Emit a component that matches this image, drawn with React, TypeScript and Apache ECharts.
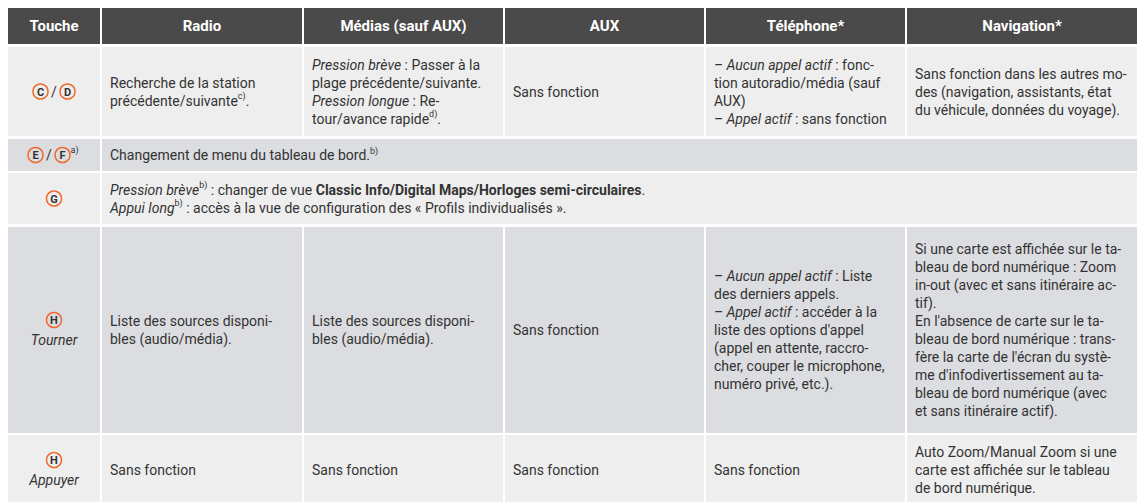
import React, { useEffect, useRef } from "react";
import * as echarts from "echarts";

// ---------- DATA ----------
const headers = ["Touche", "Radio", "Médias (sauf AUX)", "AUX", "Téléphone*", "Navigation*"];

const keyLetters = [["C", "D"], ["E", "F"], ["G"], ["H"], ["H"]];
const keyNotes = ["", "a)", "", "", ""];
const keyActions = ["", "", "", "Tourner", "Appuyer"];

const radioCD = ["Recherche de la station", "précédente/suivante{s|c)}."];
const mediasCD = [
  "{i|Pression brève} : Passer à la",
  "plage précédente/suivante.",
  "{i|Pression longue} : Re-",
  "tour/avance rapide{s|d)}.",
];
const auxCD = ["Sans fonction"];
const telCD = [
  "{i|– Aucun appel actif} : fonc-",
  "tion autoradio/média (sauf",
  "AUX)",
  "{i|– Appel actif} : sans fonction",
];
const navCD = [
  "Sans fonction dans les autres mo-",
  "des (navigation, assistants, état",
  "du véhicule, données du voyage).",
];

const rowEF = ["Changement de menu du tableau de bord.{s|b)}"];
const rowG = [
  "{i|Pression brève}{s|b)} : changer de vue {b|Classic Info/Digital Maps/Horloges semi-circulaires}.",
  "{i|Appui long}{s|b)} : accès à la vue de configuration des « Profils individualisés ».",
];

const radioTurn = ["Liste des sources disponi-", "bles (audio/média)."];
const mediasTurn = ["Liste des sources disponi-", "bles (audio/média)."];
const auxTurn = ["Sans fonction"];
const telTurn = [
  "{i|– Aucun appel actif} : Liste",
  "des derniers appels.",
  "{i|– Appel actif} : accéder à la",
  "liste des options d'appel",
  "(appel en attente, raccro-",
  "cher, couper le microphone,",
  "numéro privé, etc.).",
];
const navTurn = [
  "Si une carte est affichée sur le ta-",
  "bleau de bord numérique : Zoom",
  "in-out (avec et sans itinéraire ac-",
  "tif).",
  "En l'absence de carte sur le ta-",
  "bleau de bord numérique : trans-",
  "fère la carte de l'écran du systè-",
  "me d'infodivertissement au ta-",
  "bleau de bord numérique (avec",
  "et sans itinéraire actif).",
];

const radioPush = ["Sans fonction"];
const mediasPush = ["Sans fonction"];
const auxPush = ["Sans fonction"];
const telPush = ["Sans fonction"];
const navPush = [
  "Auto Zoom/Manual Zoom si une",
  "carte est affichée sur le tableau",
  "de bord numérique.",
];

const bodyRows = [
  [radioCD, mediasCD, auxCD, telCD, navCD],
  [rowEF],
  [rowG],
  [radioTurn, mediasTurn, auxTurn, telTurn, navTurn],
  [radioPush, mediasPush, auxPush, telPush, navPush],
];

// ---------- LAYOUT / STYLE ----------
const COL_X = [8, 102, 304, 505, 706, 907];
const COL_R = [100, 302, 503, 704, 905, 1137];
const HEAD_Y = 8;
const HEAD_H = 36;
const ROW_Y = [47, 139, 173, 227, 435];
const ROW_H = [89, 32, 51, 206, 70];

const HEAD_FILL = "#4a4a4a";
const LIGHT = "#eeeeee";
const DARK = "#dcdde0";
const ROW_FILL = [LIGHT, DARK, LIGHT, DARK, LIGHT];
const TEXT = "#333333";
const ORANGE = "#ef6a2e";
const FONT = "Roboto, 'Noto Sans', sans-serif";
const BODY = 14;
const LH = 18;
const PAD = 8;

const base = { fontSize: BODY, fontFamily: FONT, fill: TEXT, lineHeight: LH };
const rich = {
  i: { ...base, fontStyle: "italic" },
  b: { ...base, fontWeight: "bold" },
  s: { fontSize: 9, fontFamily: FONT, fill: TEXT, lineHeight: 13, verticalAlign: "top" },
};

function keyElements(letters: string[], note: string, action: string, cx: number, cy: number) {
  const els: any[] = [];
  const R = 7.5;
  const STEP = 27;
  const kcy = action ? cy - 10 : cy;
  const width = (letters.length - 1) * STEP + 2 * R + (note ? 10 : 0);
  const left = cx - width / 2;
  letters.forEach((L, i) => {
    const x = left + R + i * STEP;
    els.push({
      type: "circle",
      shape: { cx: x, cy: kcy, r: R },
      style: { fill: "none", stroke: ORANGE, lineWidth: 1.5 },
    });
    els.push({
      type: "text",
      x,
      y: kcy + 0.5,
      style: {
        text: L,
        align: "center",
        verticalAlign: "middle",
        fontSize: 11,
        fontWeight: "bold",
        fontFamily: FONT,
        fill: TEXT,
      },
    });
    if (i > 0) {
      els.push({
        type: "text",
        x: x - STEP / 2,
        y: kcy,
        style: {
          text: "/",
          align: "center",
          verticalAlign: "middle",
          fontSize: BODY,
          fontFamily: FONT,
          fill: TEXT,
        },
      });
    }
  });
  if (note) {
    els.push({
      type: "text",
      x: left + (letters.length - 1) * STEP + 2 * R + 0.5,
      y: kcy - 5,
      style: {
        text: note,
        align: "left",
        verticalAlign: "middle",
        fontSize: 9,
        fontFamily: FONT,
        fill: TEXT,
      },
    });
  }
  if (action) {
    els.push({
      type: "text",
      x: cx,
      y: cy + 10,
      style: {
        text: action,
        align: "center",
        verticalAlign: "middle",
        fontSize: BODY,
        fontStyle: "italic",
        fontFamily: FONT,
        fill: TEXT,
      },
    });
  }
  return els;
}

function buildElements() {
  const els: any[] = [];
  headers.forEach((h, c) => {
    els.push({
      type: "rect",
      shape: { x: COL_X[c], y: HEAD_Y, width: COL_R[c] - COL_X[c], height: HEAD_H },
      style: { fill: HEAD_FILL },
    });
    els.push({
      type: "text",
      x: (COL_X[c] + COL_R[c]) / 2,
      y: HEAD_Y + HEAD_H / 2,
      style: {
        text: h,
        align: "center",
        verticalAlign: "middle",
        fontSize: 15,
        fontWeight: "bold",
        fontFamily: FONT,
        fill: "#ffffff",
      },
    });
  });

  bodyRows.forEach((cells, r) => {
    const y = ROW_Y[r];
    const h = ROW_H[r];
    const cy = y + h / 2;
    const fill = ROW_FILL[r];
    els.push({
      type: "rect",
      shape: { x: COL_X[0], y, width: COL_R[0] - COL_X[0], height: h },
      style: { fill },
    });
    els.push(...keyElements(keyLetters[r], keyNotes[r], keyActions[r], (COL_X[0] + COL_R[0]) / 2, cy));
    cells.forEach((lines, i) => {
      const c = i + 1;
      const x0 = COL_X[c];
      const x1 = cells.length === 1 ? COL_R[COL_R.length - 1] : COL_R[c];
      els.push({
        type: "rect",
        shape: { x: x0, y, width: x1 - x0, height: h },
        style: { fill },
      });
      els.push({
        type: "text",
        x: x0 + PAD,
        y: cy,
        style: {
          text: lines.join("\n"),
          align: "left",
          verticalAlign: "middle",
          ...base,
          rich,
        },
      });
    });
  });
  return els;
}

export default function App() {
  const ref = useRef<HTMLDivElement>(null);
  useEffect(() => {
    document.body.style.margin = "0";
    document.body.style.overflow = "hidden";
    const chart = echarts.init(ref.current!, null, { renderer: "svg" });
    chart.setOption({
      animation: false,
      backgroundColor: "#ffffff",
      graphic: { elements: buildElements() },
    });
    return () => chart.dispose();
  }, []);
  return <div ref={ref} style={{ width: 1137, height: 502 }} />;
}
